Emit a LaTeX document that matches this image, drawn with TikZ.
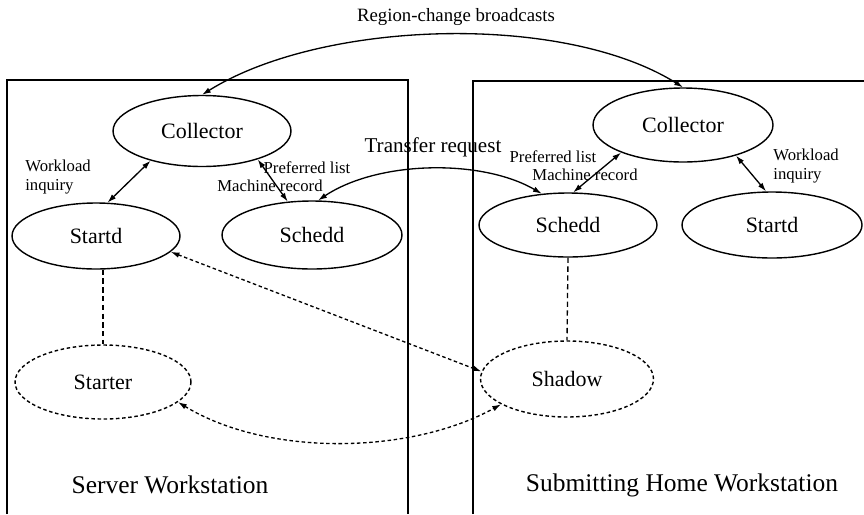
\documentclass[tikz,border=0pt]{standalone}
\usepackage{fontspec}
\setmainfont{Liberation Serif}
\usetikzlibrary{arrows.meta,shapes.geometric}

\begin{document}
\begin{tikzpicture}[x=0.02cm, y=-0.02cm,
    proc/.style={draw, ellipse, line width=0.8pt, inner sep=0pt, font=\fontsize{12.5}{14}\selectfont},
    ghost/.style={proc, dash pattern=on 2pt off 1.5pt},
    lbl/.style={inner sep=0pt, font=\fontsize{9.5}{11}\selectfont},
    link/.style={line width=0.75pt, {Latex[length=5pt,width=3.2pt]}-{Latex[length=5pt,width=3.2pt]}},
    dlink/.style={link, dash pattern=on 2pt off 1.5pt},
    tie/.style={line width=0.75pt, dash pattern=on 3pt off 2pt}]
    \useasboundingbox (0,0) rectangle (864,514);

    % Workstation frames
    \draw[line width=1pt] (7,514) -- (7,80) -- (408,80) -- (408,514);
    \draw[line width=1pt] (473,514) -- (473,81) -- (864,81);
    \node[font=\fontsize{14.5}{16}\selectfont] (srvname) at (170,485) {Server Workstation};
    \node[font=\fontsize{14.5}{16}\selectfont] (homename) at (682,485) {Submitting Home Workstation};

    % Server side daemons
    \node[proc, minimum width=3.56cm, minimum height=1.42cm] (collL) at (202,131) {Collector};
    \node[proc, minimum width=3.36cm, minimum height=1.32cm] (startdL) at (96,236) {Startd};
    \node[proc, minimum width=3.6cm, minimum height=1.36cm] (scheddL) at (312,235) {Schedd};
    \node[ghost, minimum width=3.52cm, minimum height=1.48cm] (starter) at (103,382) {Starter};

    % Home side daemons
    \node[proc, minimum width=3.6cm, minimum height=1.48cm] (collR) at (683,125) {Collector};
    \node[proc, minimum width=3.56cm, minimum height=1.28cm] (scheddR) at (568,225) {Schedd};
    \node[proc, minimum width=3.6cm, minimum height=1.32cm] (startdR) at (772,225) {Startd};
    \node[ghost, minimum width=3.46cm, minimum height=1.52cm] (shadow) at (567,379) {Shadow};

    % Links inside each workstation
    \draw[link] (collL.210) -- (startdL.71);
    \draw[link] (collL.333) -- (scheddL.126);
    \draw[link] (collR.204) -- (scheddR.81);
    \draw[link] (collR.330) -- (startdR.100);
    \node[lbl, anchor=west, align=left] (wlL) at (25,177) {Workload\\inquiry};
    \node[lbl] (prefL) at (307,168) {Preferred list};
    \node[lbl] (machL) at (270,186) {Machine record};
    \node[lbl] (prefR) at (553,157) {Preferred list};
    \node[lbl] (machR) at (585,175) {Machine record};
    \node[lbl, anchor=west, align=left] (wlR) at (773,166) {Workload\\inquiry};

    % Spawned processes
    \draw[tie] (startdL.south -| starter.north) -- (starter.north);
    \draw[tie] (scheddR.south) -- (shadow.north);
    \draw[dlink] (startdL.348) -- (shadow.175);
    \draw[dlink] (starter.345) .. controls +(90,55) and +(-90,50) .. (shadow.201);

    % Between workstations
    \draw[link] (collL.north) .. controls +(120,-75) and +(-120,-75) .. (collR.north);
    \node[font=\fontsize{10.7}{12}\selectfont] (bcast) at (456,17) {Region-change broadcasts};
    \draw[link] (scheddL.80) .. controls +(60,-40) and +(-60,-35) .. (scheddR.130);
    \node[font=\fontsize{12}{14}\selectfont] (xfer) at (433,147) {Transfer request};
\end{tikzpicture}
\end{document}
